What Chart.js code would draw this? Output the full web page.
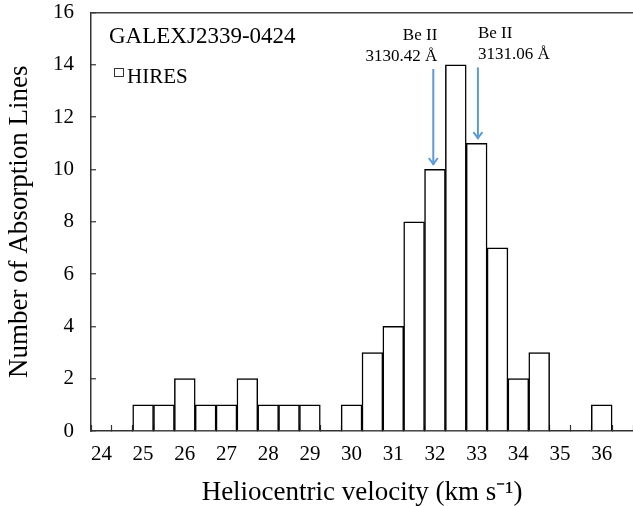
<!DOCTYPE html>
<html><head><meta charset="utf-8">
<script src="https://cdn.jsdelivr.net/npm/chart.js@4/dist/chart.umd.min.js"></script>
<style>html,body{margin:0;padding:0;background:#fff}</style>
</head><body>
<canvas id="c" width="633" height="506"></canvas>
<script>
// ---- data ----
const velocityBins = [24,24.5,25,25.5,26,26.5,27,27.5,28,28.5,29,29.5,30,30.5,31,31.5,32,32.5,33,33.5,34,34.5,35,35.5,36,36.5];
const tickLabels   = ['24','','25','','26','','27','','28','','29','','30','','31','','32','','33','','34','','35','','36',''];
const lineCounts   = [0,0,1,1,2,1,1,2,1,1,1,0,1,3,4,8,10,14,11,7,2,3,0,0,1,0];
const yMin = 0, yMax = 16, yStep = 2;
const starName = 'GALEXJ2339-0424';
const seriesName = 'HIRES';
const arrowVelocity = [31.96, 33.03];
const arrowTip      = [10.17, 11.16];
const arrowTail     = [13.84, 13.9];
const arrowLabels   = [['Be II','3130.42 Å'], ['Be II','3131.06 Å']];
const arrowAlign    = ['right', 'left'];

const SERIF = "'Liberation Serif', 'Times New Roman', serif";
const binStart = velocityBins[0], binWidth = velocityBins[1] - velocityBins[0];

const annotations = {
  id: 'annotations',
  afterDatasetsDraw(chart) {
    const {ctx, scales: {x, y}} = chart;
    ctx.save();
    // star name
    ctx.fillStyle = '#000';
    ctx.font = '23px ' + SERIF;
    ctx.textAlign = 'left';
    ctx.textBaseline = 'alphabetic';
    ctx.fillText(starName, 109, 43);
    // legend
    ctx.strokeStyle = '#333';
    ctx.lineWidth = 1;
    ctx.fillStyle = '#fff';
    ctx.fillRect(114.5, 68.5, 9, 8);
    ctx.strokeRect(114.5, 68.5, 9, 8);
    ctx.fillStyle = '#000';
    ctx.font = '21px ' + SERIF;
    ctx.fillText(seriesName, 127, 83);
    // arrows
    arrowVelocity.forEach((v, i) => {
      const px = x.getPixelForValue((v - binStart) / binWidth);
      const pTip = y.getPixelForValue(arrowTip[i]);
      const pTail = y.getPixelForValue(arrowTail[i]);
      ctx.strokeStyle = '#5B9BD5';
      ctx.lineWidth = 2;
      ctx.beginPath();
      ctx.moveTo(px, pTail);
      ctx.lineTo(px, pTip);
      ctx.stroke();
      ctx.beginPath();
      ctx.moveTo(px - 4.5, pTip - 7);
      ctx.lineTo(px, pTip - 1);
      ctx.lineTo(px + 4.5, pTip - 7);
      ctx.stroke();
      ctx.fillStyle = '#000';
      ctx.font = '17px ' + SERIF;
      ctx.textAlign = arrowAlign[i];
      const tx = arrowAlign[i] === 'right' ? px + 4 : px;
      ctx.fillText(arrowLabels[i][0], tx, pTail - 29);
      ctx.fillText(arrowLabels[i][1], tx, pTail - 8);
    });
    ctx.restore();
  }
};

new Chart(document.getElementById('c'), {
  type: 'bar',
  data: {
    labels: velocityBins.map(String),
    datasets: [{
      label: seriesName,
      data: lineCounts,
      backgroundColor: '#ffffff',
      borderColor: '#000000',
      borderWidth: 1.5,
      barPercentage: 1,
      categoryPercentage: 1
    }]
  },
  options: {
    responsive: false,
    animation: false,
    layout: {padding: {top: 12.5, right: 0, bottom: 0, left: 0}},
    plugins: {legend: {display: false}, tooltip: {enabled: false}},
    scales: {
      x: {
        type: 'category',
        offset: true,
        grid: {offset: true, drawOnChartArea: false, drawTicks: true, tickLength: -6, tickColor: '#333', tickWidth: 1.2},
        border: {display: true, color: '#333', width: 1.5},
        ticks: {
          autoSkip: false, maxRotation: 0, minRotation: 0, padding: 17,
          color: '#000', font: {family: SERIF, size: 21},
          callback: (v, i) => tickLabels[i]
        },
        title: {display: true, text: 'Heliocentric velocity (km s⁻¹)', color: '#000',
                font: {family: SERIF, size: 27, lineHeight: 1}, padding: {top: 0, bottom: 0}},
        afterFit: (s) => { s.height = 75; s.paddingLeft = 0; s.paddingRight = 0; }
      },
      y: {
        min: yMin, max: yMax,
        grid: {
          drawTicks: true, tickLength: -5, tickColor: '#333', tickWidth: 1.2,
          color: (c) => (c.tick && c.tick.value === yMax) ? '#404040' : 'rgba(0,0,0,0)',
          lineWidth: 1.5
        },
        border: {display: true, color: '#333', width: 1.5},
        ticks: {stepSize: yStep, padding: 22, color: '#000', font: {family: SERIF, size: 21}},
        title: {display: true, text: 'Number of Absorption Lines', color: '#000',
                font: {family: SERIF, size: 27, lineHeight: 1}, padding: {top: 6, bottom: 0}},
        afterFit: (s) => { s.width = 91; s.paddingTop = 0; s.paddingBottom = 0; }
      }
    }
  },
  plugins: [annotations]
});
</script>
</body></html>
